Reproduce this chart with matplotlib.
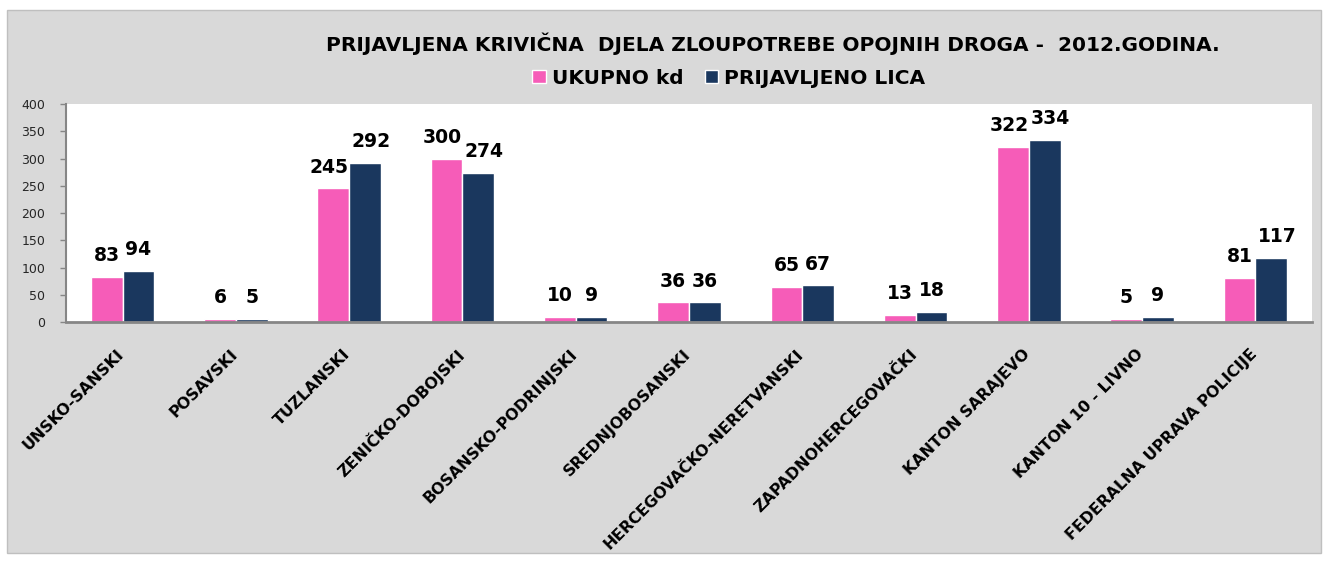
import matplotlib
matplotlib.use('Agg')
import matplotlib.pyplot as plt
import matplotlib.transforms as mtransforms
from matplotlib.patches import Rectangle
import numpy as np

plt.rcParams['font.family'] = ['DejaVu Sans']

# Data
kantoni = ['UNSKO-SANSKI', 'POSAVSKI', 'TUZLANSKI', 'ZENIČKO-DOBOJSKI',
           'BOSANSKO-PODRINJSKI', 'SREDNJOBOSANSKI', 'HERCEGOVAČKO-NERETVANSKI',
           'ZAPADNOHERCEGOVAČKI', 'KANTON SARAJEVO', 'KANTON 10 - LIVNO',
           'FEDERALNA UPRAVA POLICIJE']
ukupno_kd = [83, 6, 245, 300, 10, 36, 65, 13, 322, 5, 81]
prijavljeno_lica = [94, 5, 292, 274, 9, 36, 67, 18, 334, 9, 117]

PINK = '#f65cb8'
NAVY = '#1a375e'

W, H = 1331, 562
fig = plt.figure(figsize=(W / 100, H / 100), dpi=100)
fig.patch.set_facecolor('white')

# grey chart area with border
fig.patches.append(Rectangle((7 / W, 1 - 553 / H), 1314 / W, 543 / H,
                             transform=fig.transFigure, facecolor='#d9d9d9',
                             edgecolor='#bfbfbf', lw=1, zorder=-5))

ax = fig.add_axes([66 / W, 1 - 322 / H, (1312 - 66) / W, (322 - 104) / H])
ax.set_facecolor('white')

x = np.arange(len(kantoni))
bw = 0.28
b1 = ax.bar(x - bw / 2, ukupno_kd, bw, color=PINK, edgecolor='white', lw=1, label='UKUPNO kd')
b2 = ax.bar(x + bw / 2, prijavljeno_lica, bw, color=NAVY, edgecolor='white', lw=1, label='PRIJAVLJENO LICA')

# value labels; big numbers nudged apart a little so they don't collide
for bars, vals, nudge in ((b1, ukupno_kd, -4), (b2, prijavljeno_lica, 6)):
    for r, v in zip(bars, vals):
        dx = nudge if v >= 100 else 0
        ax.annotate(str(v), (r.get_x() + r.get_width() / 2, r.get_height()),
                    xytext=(dx * 0.72, 8.5), textcoords='offset points', ha='center', va='bottom',
                    fontsize=13.5, fontweight='bold', color='black')

ax.set_xlim(-0.5, len(kantoni) - 0.5)
ax.set_ylim(0, 400)
ax.set_yticks(range(0, 401, 50))
ax.tick_params(axis='y', labelsize=9, labelcolor='#262626', color='#868686',
               length=4, width=1, direction='out', pad=11)
ax.tick_params(axis='x', length=0, pad=0)
ax.set_xticks(x)
ax.set_xticklabels(kantoni, rotation=45, ha='right', va='center', rotation_mode='anchor',
                   fontsize=11.3, fontweight='bold')
shift = mtransforms.ScaledTranslation(-0.01, -0.30, fig.dpi_scale_trans)
for lab in ax.get_xticklabels():
    lab.set_transform(lab.get_transform() + shift)

for s in ('top', 'right'):
    ax.spines[s].set_visible(False)
ax.spines['left'].set_color('#868686')
ax.spines['left'].set_linewidth(1.5)
ax.spines['bottom'].set_color('#868686')
ax.spines['bottom'].set_linewidth(2)

fig.text(773 / W, 1 - 44 / H,
         'PRIJAVLJENA KRIVIČNA  DJELA ZLOUPOTREBE OPOJNIH DROGA -  2012.GODINA.',
         ha='center', va='center', fontsize=14.5, fontweight='bold')

fig.legend(handles=[b1, b2], loc='center', bbox_to_anchor=(729 / W, 1 - 78 / H), ncol=2,
           frameon=False, prop={'size': 14.5, 'weight': 'bold'}, handlelength=0.65,
           handleheight=0.65, handletextpad=0.3, columnspacing=1.1)

fig.savefig('out.png', dpi=100, facecolor='white')
